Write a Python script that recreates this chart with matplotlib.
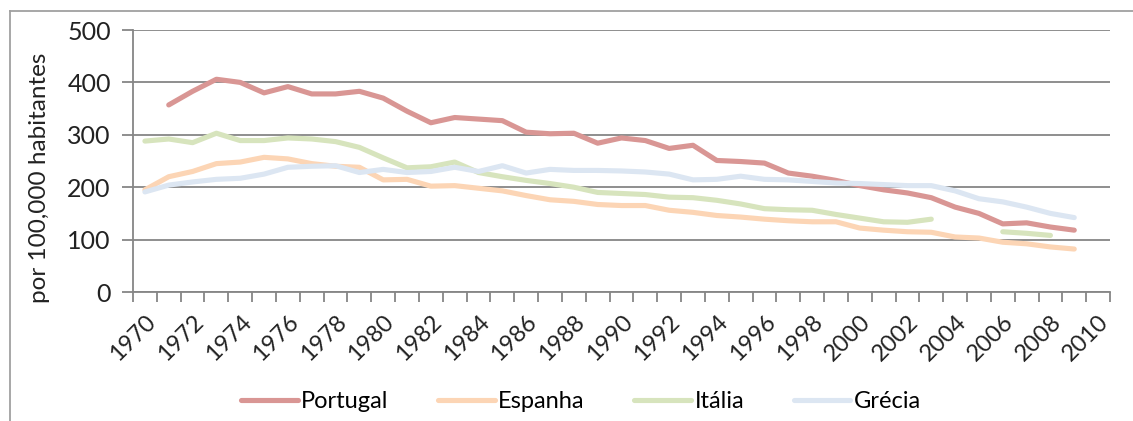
import numpy as np
import matplotlib.pyplot as plt
from matplotlib.lines import Line2D
from matplotlib.ticker import FixedLocator, NullFormatter

nan = np.nan
years = list(range(1970, 2011))
tick_labels = [str(y) for y in years[::2]]

portugal = [nan, 357, 383, 406, 400, 380, 392, 378, 378, 383, 370, 345, 323, 333, 330,
            327, 305, 302, 303, 284, 294, 289, 274, 280, 251, 249, 246, 227, 221, 213,
            203, 195, 189, 180, 162, 150, 130, 132, 124, 118]
espanha = [195, 220, 230, 245, 248, 257, 254, 245, 240, 238, 214, 215, 202, 203, 198,
           193, 184, 176, 173, 167, 165, 165, 156, 152, 146, 143, 139, 136, 134, 134,
           122, 118, 115, 114, 105, 103, 95, 92, 86, 82]
italia = [288, 292, 285, 303, 289, 289, 294, 292, 287, 276, 256, 237, 239, 248, 228,
          220, 213, 207, 200, 190, 188, 186, 181, 180, 175, 168, 159, 157, 156, 148,
          141, 134, 133, 139, nan, nan, 115, 112, 108, nan]
grecia = [191, 204, 210, 215, 217, 225, 238, 240, 241, 228, 234, 228, 230, 238, 230,
          241, 227, 234, 232, 232, 231, 229, 225, 214, 215, 221, 215, 214, 211, 208,
          207, 205, 203, 203, 193, 178, 172, 162, 150, 142]

series = [('Portugal', portugal, '#D99694'),
          ('Espanha', espanha, '#FCD5B5'),
          ('Itália', italia, '#D7E4BD'),
          ('Grécia', grecia, '#DCE6F2')]

plt.rcParams['font.family'] = ['Lato', 'DejaVu Sans']
grey = '#868686'

fig = plt.figure(figsize=(11.33, 4.21), dpi=100)
ax = fig.add_axes([133/1133, 1 - 292/421, (1110 - 133)/1133, (292 - 30)/421])

x = np.arange(len(portugal))
for name, vals, col in series:
    ax.plot(x, vals, color=col, lw=3.7, label=name,
            solid_capstyle='round', solid_joinstyle='round')

ax.set_xlim(-0.5, len(years) - 0.5)
ax.set_ylim(0, 500)
ax.set_yticks(range(0, 501, 100))
ax.yaxis.grid(True, color=grey, lw=1.3)
ax.set_axisbelow(True)

ax.set_xticks(np.arange(0, len(years), 2))
ax.set_xticklabels(tick_labels, rotation=45, ha='right', rotation_mode='anchor')
ax.xaxis.set_minor_locator(FixedLocator(np.arange(-0.5, len(years), 1)))
ax.xaxis.set_minor_formatter(NullFormatter())
ax.tick_params(axis='x', which='major', length=0, pad=14, labelsize=17, colors='#222222')
ax.tick_params(axis='x', which='minor', length=7, width=1.3, color=grey)
ax.tick_params(axis='y', length=8, width=1.3, color=grey, labelsize=18,
               labelcolor='#222222', pad=8)

for s in ['top', 'right']:
    ax.spines[s].set_visible(False)
for s in ['left', 'bottom']:
    ax.spines[s].set_color(grey)
    ax.spines[s].set_linewidth(1.3)

fig.text(40/1133, 1 - 178/421, 'por 100,000 habitantes', rotation=90,
         ha='center', va='center', fontsize=17.5, color='#222222')

fig.legend(loc='center', bbox_to_anchor=(581/1133, 1 - 402/421), ncol=4,
           frameon=False, fontsize=17, handlelength=2.4, handletextpad=0.15,
           columnspacing=2.1)

# outer chart border (only top and left visible)
fig.add_artist(Line2D([10/1133, 1], [1 - 11/421] * 2, color='#a0a0a0', lw=1.3))
fig.add_artist(Line2D([10/1133] * 2, [0, 1 - 11/421], color='#a0a0a0', lw=1.3))

fig.savefig('out.png', dpi=100)
